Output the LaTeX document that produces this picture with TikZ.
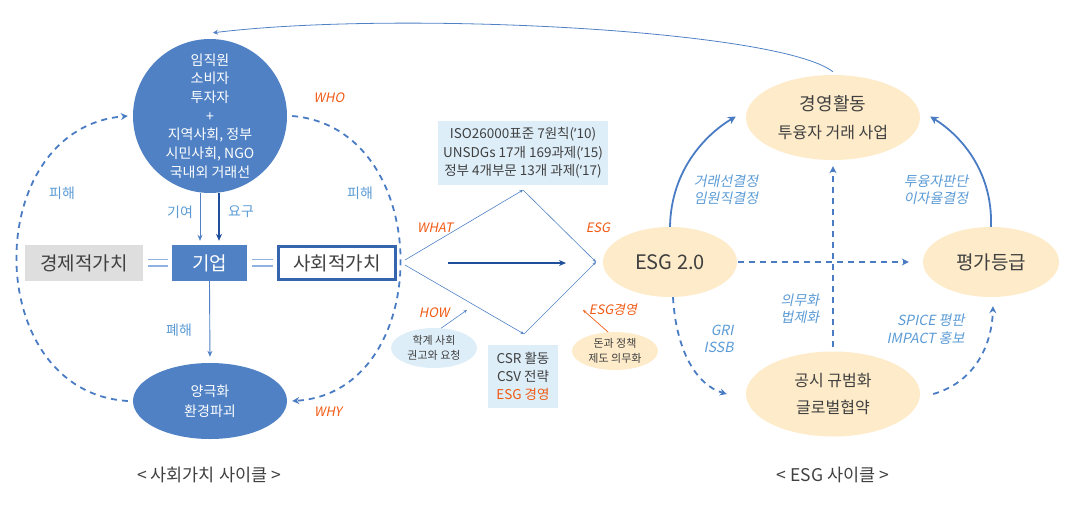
\documentclass[tikz,border=0pt]{standalone}
\usepackage{fontspec}
\setmainfont{Noto Sans CJK KR}
\newfontfamily\itf[FakeSlant=0.2]{Noto Sans CJK KR}
\newfontfamily\latf{Noto Sans}
\usetikzlibrary{arrows.meta,shapes.geometric}
\definecolor{cb}{HTML}{4F81C4}
\definecolor{cdark}{HTML}{1F4E9A}
\definecolor{clt}{HTML}{5B9BD5}
\definecolor{cdash}{HTML}{4A7CC4}
\definecolor{corg}{HTML}{F05A14}
\definecolor{cbeige}{HTML}{FDEBC9}
\definecolor{clbx}{HTML}{DDEEF9}
\definecolor{cgray}{HTML}{DEDEDE}
\definecolor{ctxt}{HTML}{404040}
\definecolor{csvb}{HTML}{3465AE}
\definecolor{ceq}{HTML}{8FB3E0}
\newcommand\myfs[2]{\fontsize{#1}{#2}\selectfont}
\newcommand\apo{{\latf ’}}
\tikzset{
  blueell/.style={ellipse, fill=cb, inner sep=0pt, text=white, align=center},
  beigeell/.style={ellipse, fill=cbeige, inner sep=0pt, text=ctxt, align=center},
  lbl/.style={text=clt, font=\myfs{14}{17}},
  itlbl/.style={text=clt, font=\itf\myfs{14}{17.5}, align=center},
  orglbl/.style={text=corg, font=\itf\myfs{13}{16}},
  thinarr/.style={draw=cb, line width=0.9pt, -{Stealth[length=6pt,width=5pt]}},
  fineline/.style={draw=cb, line width=0.6pt},
  finearr/.style={fineline, -{Stealth[length=3.5pt,width=3pt]}},
  dsh/.style={draw=cdash, line width=1.8pt, dash pattern=on 6pt off 5pt, -{Stealth[length=7pt,width=7pt]}},
  solidarr/.style={draw=cdash, line width=1.8pt, -{Stealth[length=8pt,width=8pt]}},
  eqline/.style={draw=ceq, line width=1.6pt},
  caption/.style={text=ctxt, font=\myfs{17.5}{20}}
}
\begin{document}
\begin{tikzpicture}[x=1pt,y=-1pt]
\useasboundingbox (0,0) rectangle (1080,504);

% ---------- left cycle ----------
\node[circle, fill=cb, minimum size=154pt, inner sep=0pt, text=white, align=center,
      font=\myfs{14}{18.7}] (top) at (210,116)
  {임직원\\소비자\\투자자\\+\\지역사회, 정부\\시민사회, NGO\\국내외 거래선};

\node[fill=cgray, minimum width=118pt, minimum height=36pt, inner sep=0pt, text=ctxt,
      font=\myfs{19}{22}] (econ) at (84,263) {경제적가치};
\node[fill=cb, minimum width=75pt, minimum height=36pt, inner sep=0pt, text=white,
      font=\myfs{19}{22}] (corp) at (209.5,263) {기업};
\node[draw=csvb, line width=2.5pt, fill=white, minimum width=117pt, minimum height=33pt,
      inner sep=0pt, text=ctxt, font=\myfs{19}{22}] (soc) at (337,263) {사회적가치};

\draw[eqline] (148,259.5) -- (168,259.5) (148,266) -- (168,266);
\draw[eqline] (252,259.5) -- (273,259.5) (252,266) -- (273,266);

\node[blueell, minimum width=154pt, minimum height=76pt, font=\myfs{14}{20}] (bot) at (210,401)
  {양극화\\환경파괴};

\draw[thinarr, shorten >=4pt] ([xshift=-10pt]top.south) -- ([xshift=-9.5pt]corp.north);
\draw[draw=cdark, line width=1.8pt, -{Stealth[length=7pt,width=6pt]}, shorten >=4pt]
  ([xshift=9pt]top.south) -- ([xshift=9.5pt]corp.north);
\draw[thinarr, shorten >=6pt] (corp.south) -- (bot.north);

\node[lbl] (qiyeo) at (180,212) {기여};
\node[lbl] (yogu) at (241,212) {요구};
\node[lbl] (pyehae) at (179,330) {폐해};
\node[lbl] (pihae1) at (62,193) {피해};
\node[lbl] (pihae2) at (360,193) {피해};
\node[orglbl] (who) at (329,98) {WHO};
\node[orglbl] (why) at (328,412) {WHY};

\draw[dsh] ([xshift=-5pt]bot.west) .. controls (-20,392) and (-20,128) .. ([xshift=-5pt]top.west);
\draw[dsh] ([xshift=5pt]top.east) .. controls (436,128) and (436,392) .. ([xshift=5pt]bot.east);

\node[caption] (cap1) at (209,475) {< 사회가치 사이클 >};

% ---------- middle ----------
\node[fill=clbx, minimum width=170pt, minimum height=64pt, inner sep=0pt, align=center,
      text=ctxt, font=\myfs{13.5}{18.5}] (iso) at (523,153)
  {ISO26000표준 7원칙(\apo10)\\UNSDGs 17개 169과제(\apo15)\\정부 4개부문 13개 과제(\apo17)};

\coordinate (sv1) at (405,260);
\coordinate (sv2) at (405,265);
\coordinate (tv) at (523,190);
\coordinate (rv) at (596,262);
\coordinate (bv) at (524,334);
\draw[finearr] (sv1) -- (tv);
\draw[finearr] (tv) -- (rv);
\draw[finearr] (sv2) -- (bv);
\draw[finearr] (bv) -- (rv);

\coordinate (ca1) at (448,263);
\coordinate (ca2) at (566,263);
\draw[draw=cdark, line width=2pt, -{Stealth[length=7pt,width=6pt]}] (ca1) -- (ca2);

\node[orglbl] (what) at (435,228) {WHAT};
\node[orglbl] (esgl) at (598,228) {ESG};
\node[orglbl] (how) at (434,313) {HOW};
\node[orglbl] (esgm) at (613,310) {ESG경영};

\node[ellipse, fill=clbx, minimum width=86pt, minimum height=40pt, inner sep=0pt, align=center,
      text=ctxt, font=\myfs{11}{15.5}] (acad) at (434,348) {학계 사회\\권고와 요청};
\coordinate (howtip) at (467,310);
\draw[finearr] (acad.70) -- (howtip);

\node[fill=clbx, minimum width=70pt, minimum height=63pt, inner sep=0pt, align=center,
      text=ctxt, font=\myfs{13.5}{18}] (csr) at (523,376.5)
  {CSR 활동\\CSV 전략\\\textcolor{corg}{ESG 경영}};

\node[beigeell, minimum width=86pt, minimum height=38pt, font=\myfs{11}{14.5}] (money) at (615,351)
  {돈과 정책\\제도 의무화};
\coordinate (esgtip) at (583,310);
\draw[draw=corg, line width=0.7pt, -{Stealth[length=3.5pt,width=3pt]}] (money.110) -- (esgtip);

% ---------- right cycle ----------
\node[beigeell, minimum width=134pt, minimum height=70pt, font=\myfs{20}{24}] (esg) at (670,262) {ESG 2.0};
\node[beigeell, minimum width=174pt, minimum height=85pt, font=\myfs{16}{28}] (mgmt) at (833,117.5)
  {{\myfs{18}{28}경영활동}\\투융자 거래 사업};
\node[beigeell, minimum width=136pt, minimum height=70pt, font=\myfs{19}{24}] (rate) at (991,262) {평가등급};
\node[beigeell, minimum width=174pt, minimum height=85pt, font=\myfs{16}{27}] (disc) at (833,394)
  {공시 규범화\\글로벌협약};

% feedback curve from 경영활동 back to the stakeholder circle
\draw[draw=cb, line width=0.8pt, -{Stealth[length=5pt,width=5pt]}]
  ([yshift=3pt]mgmt.north) .. controls (780,30) and (400,10) .. ([xshift=3pt,yshift=6pt]top.north);

\draw[solidarr] (esg.north) .. controls (671,168) and (708,133) .. ([xshift=-10pt,yshift=1pt]mgmt.west);
\draw[solidarr] (rate.north) .. controls (993,168) and (957,133) .. ([xshift=10pt,yshift=1pt]mgmt.east);
\draw[dsh] ([xshift=1pt]esg.east) -- ([xshift=-14pt]rate.west);
\draw[dsh] ([yshift=4pt]disc.north) -- ([yshift=-6pt]mgmt.south);
\draw[dsh] ([xshift=3pt]esg.south) .. controls (676,350) and (696,385) .. ([xshift=-19pt]disc.west);
\draw[dsh] ([xshift=13pt]disc.east) .. controls (975,382) and (992,345) .. ([xshift=2pt,yshift=-9pt]rate.south);

\node[itlbl] (lab1) at (726,190) {거래선결정\\임원직결정};
\node[itlbl] (lab2) at (936,190) {투융자판단\\이자율결정};
\node[itlbl] (lab3) at (800,309) {의무화\\법제화};
\node[itlbl, align=right, anchor=east] (lab4) at (737,339) {GRI\\ISSB};
\node[itlbl, align=right, anchor=east] (lab5) at (968,329) {SPICE 평판\\IMPACT 홍보};

\node[caption] (cap2) at (833,475) {< ESG 사이클 >};
\end{tikzpicture}
\end{document}
